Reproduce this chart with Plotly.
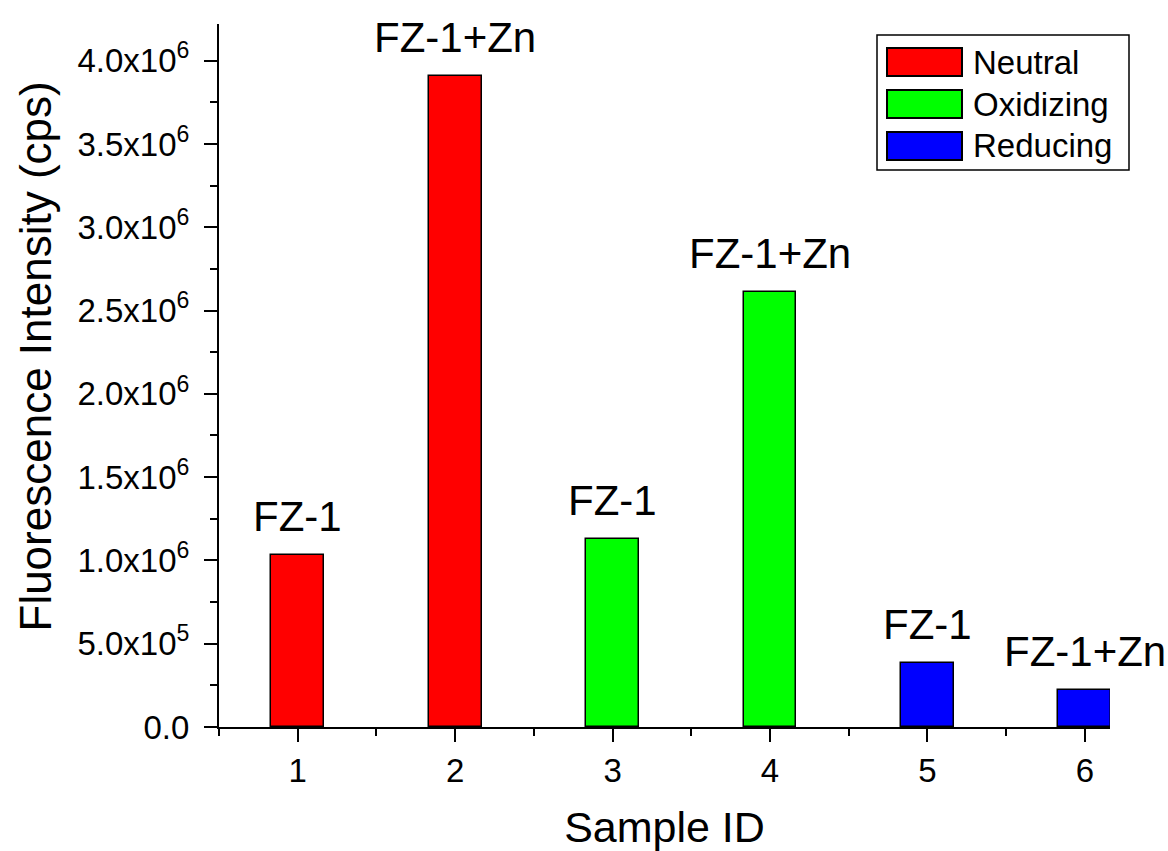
import plotly.graph_objects as go

# ---- data ----
sample_ids = [1, 2, 3, 4, 5, 6]
intensity = [1.032e6, 3.910e6, 1.128e6, 2.614e6, 0.385e6, 0.220e6]
bar_labels = ["FZ-1", "FZ-1+Zn", "FZ-1", "FZ-1+Zn", "FZ-1", "FZ-1+Zn"]
conditions = ["Neutral", "Neutral", "Oxidizing", "Oxidizing", "Reducing", "Reducing"]
legend_names = ["Neutral", "Oxidizing", "Reducing"]
y_tick_vals = [0, 0.5e6, 1.0e6, 1.5e6, 2.0e6, 2.5e6, 3.0e6, 3.5e6, 4.0e6]
y_tick_text = ["0.0", "5.0x10<sup>5</sup>", "1.0x10<sup>6</sup>", "1.5x10<sup>6</sup>",
               "2.0x10<sup>6</sup>", "2.5x10<sup>6</sup>", "3.0x10<sup>6</sup>",
               "3.5x10<sup>6</sup>", "4.0x10<sup>6</sup>"]
x_tick_vals = [1, 2, 3, 4, 5, 6]
x_title = "Sample ID"
y_title = "Fluorescence Intensity (cps)"

colors = {"Neutral": "#FF0000", "Oxidizing": "#00FF00", "Reducing": "#0000FF"}
FONT = "Liberation Sans, Arial, sans-serif"

W, H = 1168, 851
ML, MR, MT, MB = 219, 58, 24, 124
PW, PH = W - ML - MR, H - MT - MB


def px_x(px):
    return (px - ML) / PW


def px_y(py):
    return (H - MB - py) / PH


fig = go.Figure()
for cond in legend_names:
    xs = [x for x, c in zip(sample_ids, conditions) if c == cond]
    ys = [y for y, c in zip(intensity, conditions) if c == cond]
    fig.add_trace(go.Bar(
        x=xs, y=ys, name=cond, width=0.335,
        marker=dict(color=colors[cond], line=dict(color="black", width=1.5)),
        showlegend=False,
    ))

# bar labels
for x, y, t in zip(sample_ids, intensity, bar_labels):
    fig.add_annotation(x=x, y=y, text=t, showarrow=False, xanchor="center",
                       yanchor="bottom", yshift=13,
                       font=dict(family=FONT, size=42, color="black"))

# y-axis title (placed as annotation to match the reference's offset)
fig.add_annotation(xref="paper", yref="paper", x=px_x(35), y=px_y(356.5),
                   text=y_title, textangle=-90, showarrow=False,
                   xanchor="center", yanchor="middle",
                   font=dict(family=FONT, size=44, color="black"))

# custom legend
fig.add_shape(type="rect", xref="paper", yref="paper",
              x0=px_x(877), x1=px_x(1129), y0=px_y(170), y1=px_y(35),
              line=dict(color="black", width=1.5), fillcolor="white", layer="above")
row_centers = [62, 104, 146]
for name, cy in zip(legend_names, row_centers):
    fig.add_shape(type="rect", xref="paper", yref="paper",
                  x0=px_x(887), x1=px_x(962), y0=px_y(cy + 14), y1=px_y(cy - 14),
                  line=dict(color="black", width=2), fillcolor=colors[name], layer="above")
    fig.add_annotation(xref="paper", yref="paper", x=px_x(971), y=px_y(cy),
                       text=name, showarrow=False, xanchor="left", yanchor="middle",
                       font=dict(family=FONT, size=33, color="black"))

fig.update_layout(
    width=W, height=H,
    margin=dict(l=ML, r=MR, t=MT, b=MB, pad=0, autoexpand=False),
    paper_bgcolor="white", plot_bgcolor="white",
    font=dict(family=FONT, color="black"),
    bargap=0,
    barmode="overlay",
)
fig.update_xaxes(
    range=[0.5, 6.16], tickvals=x_tick_vals, ticktext=[str(v) for v in x_tick_vals],
    automargin=False,
    showline=True, linecolor="black", linewidth=2, mirror=False,
    ticks="outside", ticklen=13, tickwidth=2, tickcolor="black",
    tickfont=dict(family=FONT, size=33, color="black"),
    minor=dict(tickmode="linear", tick0=0.5, dtick=0.5, ticks="outside",
               ticklen=7, tickwidth=2, tickcolor="black"),
    showgrid=False, zeroline=False,
    title=dict(text=x_title, font=dict(family=FONT, size=43, color="black"), standoff=24),
)
fig.update_yaxes(
    range=[0, 4.22e6], tickvals=y_tick_vals, ticktext=y_tick_text,
    automargin=False,
    showline=True, linecolor="black", linewidth=2, mirror=False,
    ticks="outside", ticklen=13, tickwidth=2, tickcolor="black",
    tickfont=dict(family=FONT, size=33, color="black"),
    ticklabelstandoff=8,
    minor=dict(tickmode="linear", tick0=0, dtick=2.5e5, ticks="outside",
               ticklen=7, tickwidth=2, tickcolor="black"),
    showgrid=False, zeroline=False,
)

fig.write_html("out.html", config={"displayModeBar": False},
               post_script="document.body.style.margin='0';document.body.style.overflow='hidden';")
